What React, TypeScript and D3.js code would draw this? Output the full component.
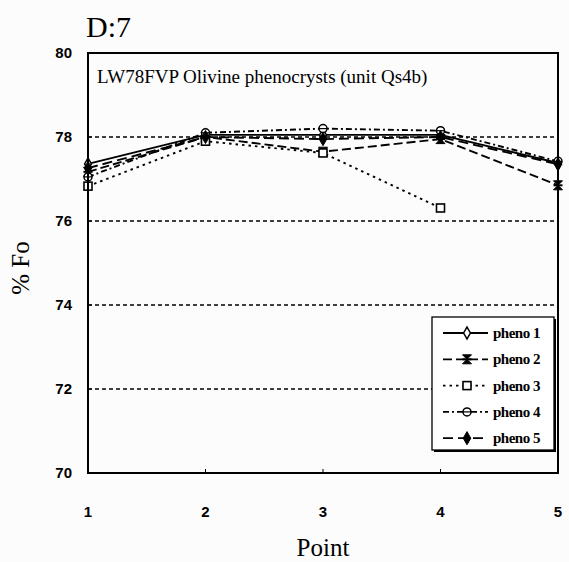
import * as d3 from "d3";

const POINTS = [1, 2, 3, 4, 5];
const Y_TICKS = [70, 72, 74, 76, 78, 80];
const GRID = [72, 74, 76, 78];

const PHENO1 = [77.36, 78.05, 78.05, 78.05, 77.38];
const PHENO2 = [77.17, 78.0, 77.65, 77.95, 76.85];
const PHENO3 = [76.83, 77.9, 77.62, 76.31, null];
const PHENO4 = [77.05, 78.1, 78.2, 78.15, 77.42];
const PHENO5 = [77.26, 78.0, 77.95, 78.0, 77.35];

const SERIES = [
  { label: "pheno 1", values: PHENO1, dash: "none", marker: "diamondOpen" },
  { label: "pheno 2", values: PHENO2, dash: "9,4", marker: "bowtie" },
  { label: "pheno 3", values: PHENO3, dash: "2.5,4", marker: "square" },
  { label: "pheno 4", values: PHENO4, dash: "6,3,2,3", marker: "circleBar" },
  { label: "pheno 5", values: PHENO5, dash: "10,5", marker: "diamondFilled" },
];

const W = 569;
const H = 562;
const plot = { left: 88, right: 558, top: 53, bottom: 473 };
const SERIF = "Liberation Serif, Times New Roman, serif";
const SANS = "Liberation Sans, Arial, sans-serif";

function Marker({ kind, x, y }: { kind: string; x: number; y: number }) {
  const t = `translate(${x},${y})`;
  if (kind === "diamondOpen")
    return <path transform={t} d={d3.symbol(d3.symbolDiamond, 40)()!} fill="white" stroke="black" strokeWidth={1.5} />;
  if (kind === "diamondFilled")
    return <path transform={t} d={d3.symbol(d3.symbolDiamond, 50)()!} fill="black" stroke="black" strokeWidth={1} />;
  if (kind === "square")
    return <rect transform={t} x={-4} y={-4} width={8} height={8} fill="white" stroke="black" strokeWidth={1.6} />;
  if (kind === "circleBar")
    return (
      <g transform={t}>
        <circle r={4} fill="white" stroke="black" strokeWidth={1.5} />
        <line x1={-4} x2={4} y1={0} y2={0} stroke="black" strokeWidth={1.2} />
      </g>
    );
  // bowtie / filled x
  return (
    <g transform={t}>
      <path d="M-4.5,-4.5 L4.5,-4.5 L0,0 L4.5,4.5 L-4.5,4.5 L0,0 Z" fill="black" stroke="black" strokeWidth={1} />
      <line x1={-4.5} x2={4.5} y1={0} y2={0} stroke="black" strokeWidth={2} />
    </g>
  );
}

export default function App() {
  const x = d3.scaleLinear().domain([1, 5]).range([plot.left, plot.right]);
  const y = d3.scaleLinear().domain([70, 80]).range([plot.bottom, plot.top]);

  const line = d3
    .line<number | null>()
    .defined((d) => d !== null)
    .x((_, i) => x(POINTS[i]))
    .y((d) => y(d as number));

  const lx = 432;
  const ly = 317;
  const lw = 122;
  const lh = 133;

  return (
    <div style={{ position: "absolute", left: 0, top: 0 }}>
      <svg width={W} height={H} style={{ display: "block", background: "#fcfcfc" }}>
        <text x={86} y={37} fontFamily={SERIF} fontSize={30}>
          D:7
        </text>

        {/* gridlines */}
        {GRID.map((g) => (
          <line key={g} x1={plot.left} x2={plot.right} y1={y(g)} y2={y(g)} stroke="black" strokeWidth={1.3} strokeDasharray="4,3" />
        ))}

        {/* series */}
        {SERIES.map((s) => (
          <path key={s.label} d={line(s.values)!} fill="none" stroke="black" strokeWidth={1.9} strokeDasharray={s.dash} />
        ))}
        {SERIES.map((s) =>
          s.values.map((v, i) =>
            v === null ? null : <Marker key={s.label + i} kind={s.marker} x={x(POINTS[i])} y={y(v)} />
          )
        )}

        {/* frame */}
        <rect x={plot.left} y={plot.top} width={plot.right - plot.left} height={plot.bottom - plot.top} fill="none" stroke="black" strokeWidth={2} />

        {/* ticks */}
        {Y_TICKS.map((t) => (
          <g key={t}>
            <line x1={plot.left} x2={plot.left + 4} y1={y(t)} y2={y(t)} stroke="black" strokeWidth={1} />
            <text x={72} y={y(t) + 5} textAnchor="end" fontFamily={SANS} fontWeight="bold" fontSize={15}>
              {t}
            </text>
          </g>
        ))}
        {POINTS.map((p) => (
          <g key={p}>
            <line x1={x(p)} x2={x(p)} y1={plot.bottom} y2={plot.bottom - 4} stroke="black" strokeWidth={1} />
            <text x={x(p)} y={517} textAnchor="middle" fontFamily={SANS} fontWeight="bold" fontSize={15}>
              {p}
            </text>
          </g>
        ))}

        <text x={97} y={83} fontFamily={SERIF} fontSize={19}>
          LW78FVP Olivine phenocrysts (unit Qs4b)
        </text>

        {/* axis titles */}
        <text x={(plot.left + plot.right) / 2} y={556} textAnchor="middle" fontFamily={SERIF} fontSize={25}>
          Point
        </text>
        <text
          transform={`translate(29,${(plot.top + plot.bottom) / 2 + 5}) rotate(-90)`}
          textAnchor="middle"
          fontFamily={SERIF}
          fontSize={25}
        >
          % Fo
        </text>

        {/* legend */}
        <rect x={lx + 2} y={ly + 2} width={lw} height={lh} fill="black" />
        <rect x={lx} y={ly} width={lw} height={lh} fill="white" stroke="black" strokeWidth={1.3} />
        {SERIES.map((s, i) => {
          const yy = ly + 16 + i * 26.3;
          return (
            <g key={s.label}>
              <line x1={lx + 11} x2={lx + 56} y1={yy} y2={yy} stroke="black" strokeWidth={1.8} strokeDasharray={s.dash} />
              <Marker kind={s.marker} x={lx + 35} y={yy} />
              <text x={lx + 61} y={yy + 5} fontFamily={SERIF} fontSize={15} fontWeight="bold" letterSpacing={-0.5}>
                {s.label}
              </text>
            </g>
          );
        })}
      </svg>
    </div>
  );
}
